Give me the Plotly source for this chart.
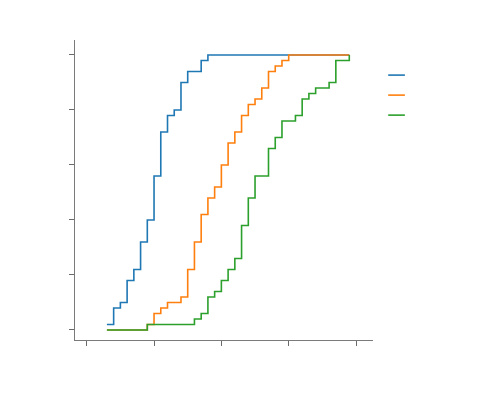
import plotly.graph_objects as go

# ECDF step breakpoints (x where the level changes, level after the step)
blue_x = [0.3, 0.4, 0.5, 0.6, 0.7, 0.8, 0.9, 1.0, 1.1, 1.2, 1.3, 1.4, 1.5, 1.7, 1.8, 3.9]
blue_y = [0.02, 0.08, 0.10, 0.18, 0.22, 0.32, 0.40, 0.56, 0.72, 0.78, 0.80, 0.90, 0.94, 0.98, 1.0, 1.0]

orange_x = [0.3, 0.9, 1.0, 1.1, 1.2, 1.4, 1.5, 1.6, 1.7, 1.8, 1.9, 2.0, 2.1, 2.2, 2.3, 2.4,
            2.5, 2.6, 2.7, 2.8, 2.9, 3.0, 3.9]
orange_y = [0.0, 0.02, 0.06, 0.08, 0.10, 0.12, 0.22, 0.32, 0.42, 0.48, 0.52, 0.60, 0.68, 0.72,
            0.78, 0.82, 0.84, 0.88, 0.94, 0.96, 0.98, 1.0, 1.0]

green_x = [0.3, 0.9, 1.6, 1.7, 1.8, 1.9, 2.0, 2.1, 2.2, 2.3, 2.4, 2.5, 2.7, 2.8, 2.9, 3.1,
           3.2, 3.3, 3.4, 3.6, 3.7, 3.9]
green_y = [0.0, 0.02, 0.04, 0.06, 0.12, 0.14, 0.18, 0.22, 0.26, 0.38, 0.48, 0.56, 0.66, 0.70,
           0.76, 0.78, 0.84, 0.86, 0.88, 0.90, 0.98, 1.0]

x_ticks = [0, 1, 2, 3, 4]
y_ticks = [0, 0.2, 0.4, 0.6, 0.8, 1.0]

colors = ["#1f77b4", "#ff7f0e", "#2ca02c"]
series = [(blue_x, blue_y), (orange_x, orange_y), (green_x, green_y)]

fig = go.Figure()
for (xs, ys), c in zip(series, colors):
    fig.add_trace(go.Scatter(x=xs, y=ys, mode="lines", line_shape="hv",
                             line=dict(color=c, width=1.6), showlegend=False,
                             hoverinfo="skip"))

# legend keys (no labels in the reference)
for i, c in enumerate(colors):
    yk = 0.883 - i * 0.0667
    fig.add_shape(type="line", xref="paper", yref="paper", x0=1.051, x1=1.107,
                  y0=yk, y1=yk, line=dict(color=c, width=1.6))

axis_style = dict(showgrid=False, zeroline=False, showline=True, linecolor="#7a7a7a",
                  linewidth=1.4, ticks="outside", ticklen=5, tickwidth=1.2,
                  tickcolor="#6a6a6a", showticklabels=False)

fig.update_xaxes(range=[-0.174, 4.252], tickvals=x_ticks, **axis_style)
fig.update_yaxes(range=[-0.0364, 1.0545], tickvals=y_ticks, **axis_style)

# page body adds an 8px offset, so margins are pulled in by that much
fig.update_layout(width=500, height=400, plot_bgcolor="white", paper_bgcolor="white",
                  margin=dict(l=67, r=135, t=32, b=68))

fig.write_html("out.html")
